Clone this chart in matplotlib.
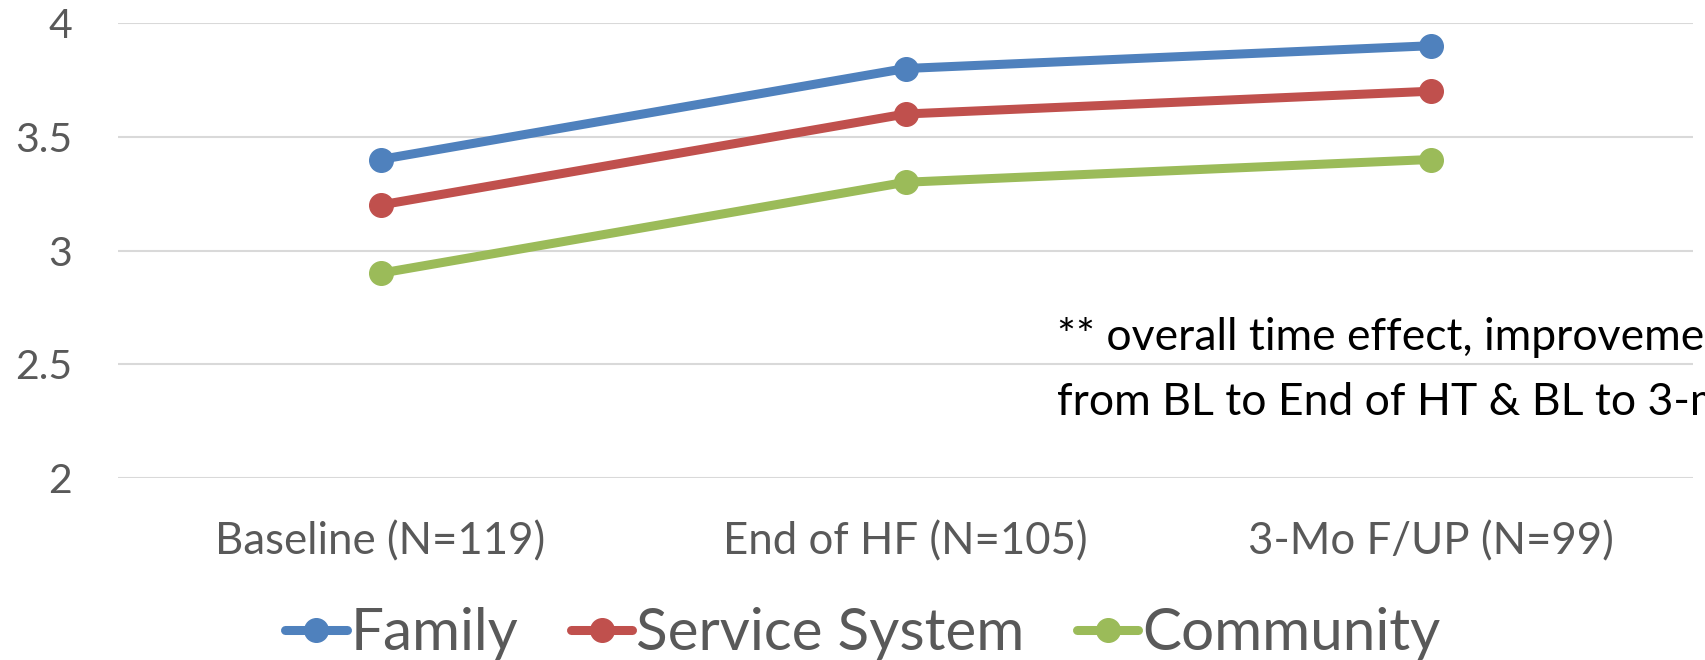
import matplotlib
matplotlib.use("Agg")
import matplotlib.pyplot as plt

categories = ["Baseline (N=119)", "End of HF (N=105)", "3-Mo F/UP (N=99)"]
family = [3.4, 3.8, 3.9]
service_system = [3.2, 3.6, 3.7]
community = [2.9, 3.3, 3.4]
series_names = ["Family", "Service System", "Community"]
colors = ["#4F81BD", "#C0504D", "#9BBB59"]
yticks = [2, 2.5, 3, 3.5, 4]
ytick_labels = ["2", "2.5", "3", "3.5", "4"]
note = "** overall time effect, improvement\nfrom BL to End of HT & BL to 3-mo"

plt.rcParams['font.family'] = ['Lato', 'DejaVu Sans']

fig = plt.figure(figsize=(17.05, 6.6), dpi=100)
ax = fig.add_axes([118/1705, 1-478/660, (1693-118)/1705, (478-23)/660])

x = list(range(len(categories)))
for vals, name, c in zip([family, service_system, community], series_names, colors):
    ax.plot(x, vals, color=c, lw=6.5, marker='o', markersize=17,
            solid_capstyle='round', label=name, zorder=3)

ax.set_xlim(-0.5, len(categories) - 0.5)
ax.set_ylim(2, 4)
ax.set_yticks(yticks)
ax.set_yticklabels(ytick_labels)
ax.set_xticks(x)
ax.set_xticklabels(categories)
ax.grid(axis='y', color='#D9D9D9', lw=1.5, zorder=0)
ax.tick_params(axis='y', length=0, pad=33, labelsize=29.5, labelcolor='#595959')
ax.tick_params(axis='x', length=0, pad=31, labelsize=31.5, labelcolor='#595959')
for s in ax.spines.values():
    s.set_visible(False)

fig.text(1057/1705, 1-370/660, note, fontsize=32, color='black',
         ha='left', va='center', linespacing=1.72)

leg = fig.legend(loc='center', bbox_to_anchor=(863/1705, 1-634/660), ncol=3,
                 frameon=False, fontsize=42, handlelength=1.05, handletextpad=0.07,
                 columnspacing=0.9, labelcolor='#595959')
for h in leg.legend_handles:
    h.set_markersize(17)

fig.savefig("out.png", dpi=100)
